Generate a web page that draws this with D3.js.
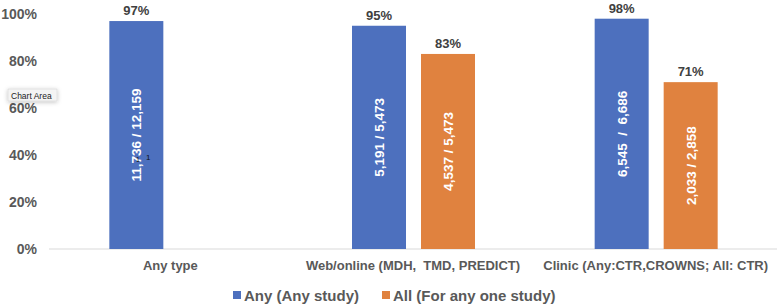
<!DOCTYPE html>
<html>
<head>
<meta charset="utf-8">
<script src="https://cdn.jsdelivr.net/npm/d3@7"></script>
<style>
  body { margin: 0; background: #fff; }
  svg { display: block; font-family: "Liberation Sans", Arial, sans-serif; }
</style>
</head>
<body>
<div id="chart"></div>
<script>
// chart data
const categories = ['Any type', 'Web/online (MDH,  TMD, PREDICT)', 'Clinic (Any:CTR,CROWNS; All: CTR)'];
const seriesNames = ['Any (Any study)', 'All (For any one study)'];
const anyValues = [0.97, 0.95, 0.98];
const allValues = [null, 0.83, 0.71];
const anyCounts = ['11,736 / 12,159', '5,191 / 5,473', '6,545  /  6,686'];
const allCounts = [null, '4,537 / 5,473', '2,033 / 2,858'];
const yTicks = [0, 0.2, 0.4, 0.6, 0.8, 1.0];

const width = 777, height = 308;
const margin = {top: 14, right: 0, bottom: 59, left: 49};
const colors = ['#4d70be', '#e0823f'];

const svg = d3.select('#chart').append('svg')
  .attr('width', width).attr('height', height);

const x0 = d3.scaleBand().domain(categories)
  .range([margin.left, width - margin.right]).padding(0);
const x1 = d3.scaleBand().domain([0, 1])
  .range([0, 123]);
const y = d3.scaleLinear().domain([0, 1]).range([height - margin.bottom, margin.top]);

// baseline
svg.append('line')
  .attr('x1', margin.left).attr('x2', width)
  .attr('y1', y(0)).attr('y2', y(0))
  .attr('stroke', '#d9d9d9').attr('stroke-width', 1);

// y axis labels
svg.append('g').selectAll('text')
  .data(yTicks)
  .join('text')
  .attr('x', 37)
  .attr('y', d => y(d) + 5)
  .attr('text-anchor', 'end')
  .attr('font-size', 14)
  .attr('font-weight', 'bold')
  .attr('fill', '#595959')
  .text(d => d3.format('.0%')(d));

// flatten bars
const bars = [];
categories.forEach((c, i) => {
  bars.push({cat: c, s: 0, v: anyValues[i], label: anyCounts[i]});
  if (allValues[i] != null) bars.push({cat: c, s: 1, v: allValues[i], label: allCounts[i]});
});
const barW = 54;
const bx = d => x0(d.cat) + x0.bandwidth() / 2 - 61 + (d.s === 0 ? 0 : 69);

svg.append('g').selectAll('rect')
  .data(bars)
  .join('rect')
  .attr('x', bx)
  .attr('y', d => y(d.v))
  .attr('width', barW)
  .attr('height', d => y(0) - y(d.v))
  .attr('fill', d => colors[d.s]);

// percentage labels above bars
svg.append('g').selectAll('text')
  .data(bars)
  .join('text')
  .attr('x', d => bx(d) + barW / 2)
  .attr('y', d => y(d.v) - 6)
  .attr('text-anchor', 'middle')
  .attr('font-size', 13)
  .attr('font-weight', 'bold')
  .attr('fill', '#404040')
  .text(d => d3.format('.0%')(d.v));

// counts inside bars
svg.append('g').selectAll('text')
  .data(bars)
  .join('text')
  .attr('transform', d => `translate(${bx(d) + barW / 2 + 5},${(y(d.v) + y(0)) / 2}) rotate(-90)`)
  .attr('text-anchor', 'middle')
  .attr('font-size', 13.5)
  .attr('font-weight', 'bold')
  .attr('fill', '#fff')
  .style('white-space', 'pre')
  .text(d => d.label);

// category labels
svg.append('g').selectAll('text')
  .data(categories)
  .join('text')
  .attr('x', d => x0(d) + x0.bandwidth() / 2)
  .attr('y', 270)
  .attr('text-anchor', 'middle')
  .attr('font-size', 13)
  .attr('font-weight', 'bold')
  .attr('fill', '#595959')
  .style('white-space', 'pre')
  .text(d => d);

// legend
const legend = svg.append('g');
const legendX = [233, 382];
seriesNames.forEach((name, i) => {
  legend.append('rect')
    .attr('x', legendX[i]).attr('y', 291)
    .attr('width', 8).attr('height', 8)
    .attr('fill', colors[i]);
  legend.append('text')
    .attr('x', legendX[i] + 11).attr('y', 301)
    .attr('font-size', 15)
    .attr('font-weight', 'bold')
    .attr('fill', '#595959')
    .text(name);
});

// "Chart Area" tooltip captured in the screenshot
const defs = svg.append('defs');
const f = defs.append('filter').attr('id', 'shadow').attr('x', '-30%').attr('y', '-60%').attr('width', '160%').attr('height', '220%');
f.append('feDropShadow').attr('dx', 0).attr('dy', 1).attr('stdDeviation', 2).attr('flood-color', '#000').attr('flood-opacity', 0.25);
svg.append('rect')
  .attr('x', 8).attr('y', 89).attr('width', 49).attr('height', 12)
  .attr('fill', '#f4f4f4').attr('stroke', '#d0d0d0').attr('stroke-width', 0.5)
  .attr('filter', 'url(#shadow)');
svg.append('text')
  .attr('x', 11).attr('y', 98.5)
  .attr('font-size', 8.5)
  .attr('fill', '#222')
  .text('Chart Area');
svg.append('text')
  .attr('x', 146).attr('y', 160)
  .attr('font-size', 8)
  .attr('fill', '#111')
  .text('1');
svg.append('text')
  .attr('x', 136).attr('y', 162)
  .attr('font-size', 7)
  .attr('fill', '#111')
  .text('1');
</script>
</body>
</html>
